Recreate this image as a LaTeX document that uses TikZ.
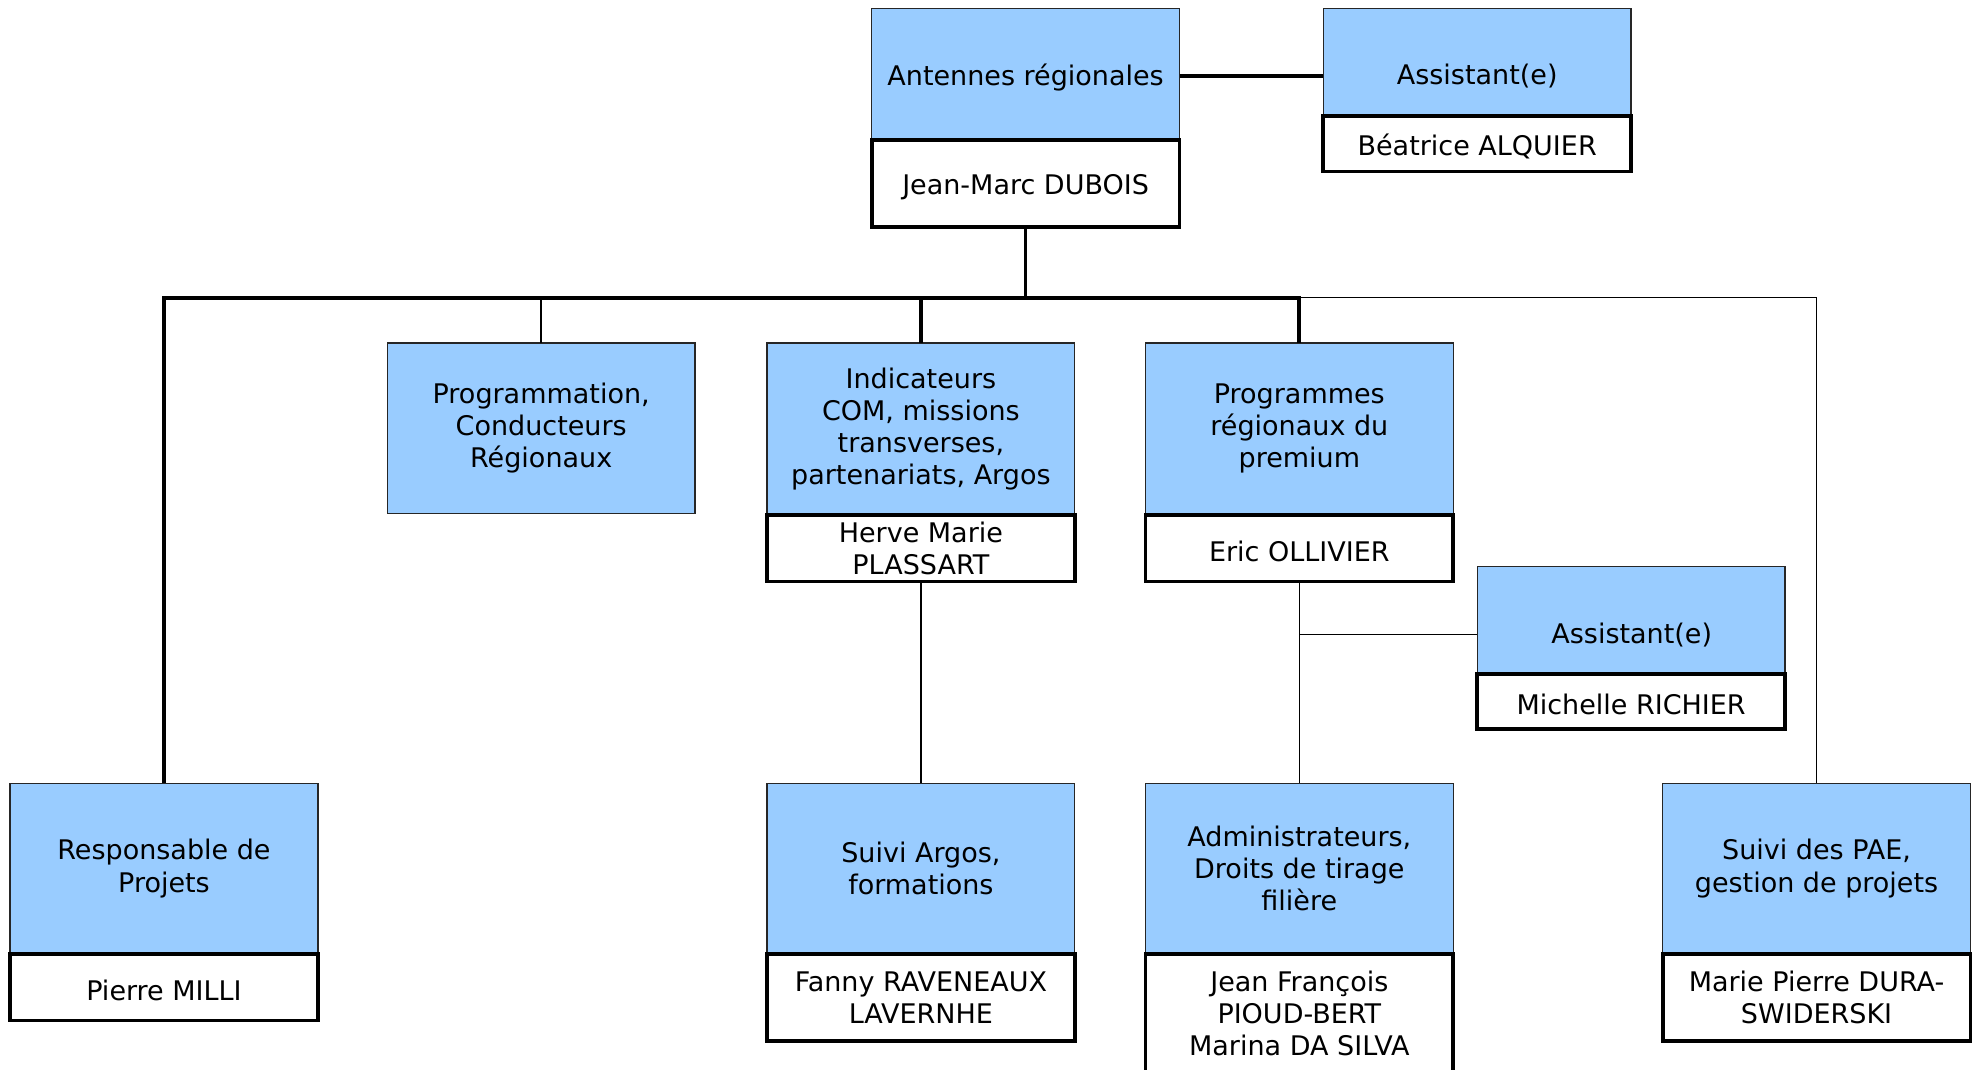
\documentclass[tikz,border=0pt]{standalone}
\usepackage{fontspec}
\setmainfont{DejaVu Sans}
\definecolor{boxblue}{HTML}{99CCFF}
\begin{document}
\begin{tikzpicture}[x=1pt,y=-1pt,
  font=\fontsize{21.4}{25.4}\selectfont,
  bbox/.style={draw=black!85, line width=1pt, fill=boxblue, anchor=north west, minimum width=244pt, inner sep=0pt, outer sep=0pt, align=center, execute at begin node={\rule{0pt}{22pt}}},
  wbox/.style={draw=black, line width=3pt, fill=white, anchor=north west, minimum width=244pt, inner sep=0pt, outer sep=0pt, align=center, execute at begin node={\rule{0pt}{21pt}}},
  thk/.style={line width=3pt},
  thn/.style={line width=1.2pt}]
\useasboundingbox (0,0) rectangle (1568,848);

\coordinate (bus) at (813,236);

% top level
\node[bbox, minimum height=104pt] (antennes) at (691,7) {Antennes régionales};
\node[wbox, minimum height=69pt] (dubois) at (691,111) {Jean-Marc DUBOIS};
\node[bbox, minimum height=85pt] (asst1) at (1049,7) {};
\node (a1t) at (1171,60) {Assistant(e)};
\node[wbox, minimum height=44pt] (beatrice) at (1049,92) {Béatrice ALQUIER};

% second level
\node[bbox, minimum height=135pt] (progr) at (307,272) {Programmation,\\Conducteurs\\Régionaux};
\node[bbox, minimum height=136pt] (indic) at (608,272) {Indicateurs\\COM, missions\\transverses,\\partenariats, Argos};
\node[wbox, minimum height=53pt] (herve) at (608,408) {Herve Marie\\PLASSART};
\node[bbox, minimum height=136pt] (progm) at (908,272) {Programmes\\régionaux du\\premium};
\node[wbox, minimum height=53pt] (eric) at (908,408) {Eric OLLIVIER};

\node[bbox, minimum height=85pt] (asst2) at (1171,449) {};
\node (a2t) at (1293.5,503) {Assistant(e)};
\node[wbox, minimum height=44pt] (michelle) at (1171,534) {Michelle RICHIER};

% bottom level
\node[bbox, minimum height=135pt] (resp) at (8,621) {Responsable de\\Projets};
\node[wbox, minimum height=53pt] (pierre) at (8,756) {Pierre MILLI};
\node[bbox, minimum height=135pt] (argos) at (608,621) {Suivi Argos,\\formations};
\node[wbox, minimum height=69pt] (fanny) at (608,756) {Fanny RAVENEAUX\\LAVERNHE};
\node[bbox, minimum height=135pt] (admin) at (908,621) {Administrateurs,\\Droits de tirage\\filière};
\node[wbox, draw=none, minimum height=94pt] (jf) at (908,756) {Jean François\\PIOUD-BERT\\Marina DA SILVA};
\draw[thk] (jf.south west) -- (jf.north west) -- (jf.north east) -- (jf.south east);
\node[bbox, minimum height=135pt] (pae) at (1318,621) {Suivi des PAE,\\gestion de projets};
\node[wbox, minimum height=69pt] (marie) at (1318,756) {Marie Pierre DURA-\\SWIDERSKI};

% connectors
\draw[thk] (antennes.east) ++(0,1) coordinate (ae) (ae) -- (ae -| asst1.west);
\draw[thk] (dubois.south) -- (bus);
\draw[thk] (resp.north) |- (progm.north |- bus) -- (progm.north);
\draw[thk] (indic.north) -- (indic.north |- bus);
\draw[thn] (progr.north) -- (progr.north |- bus);
\draw[thn] (progm.north |- bus) -| (pae.north);
\draw[thn] (herve.south) -- (argos.north);
\draw[thn] (eric.south) -- (admin.north);
\draw[thn] (eric.south |- a2t) -- (a2t -| asst2.west);
\end{tikzpicture}
\end{document}
